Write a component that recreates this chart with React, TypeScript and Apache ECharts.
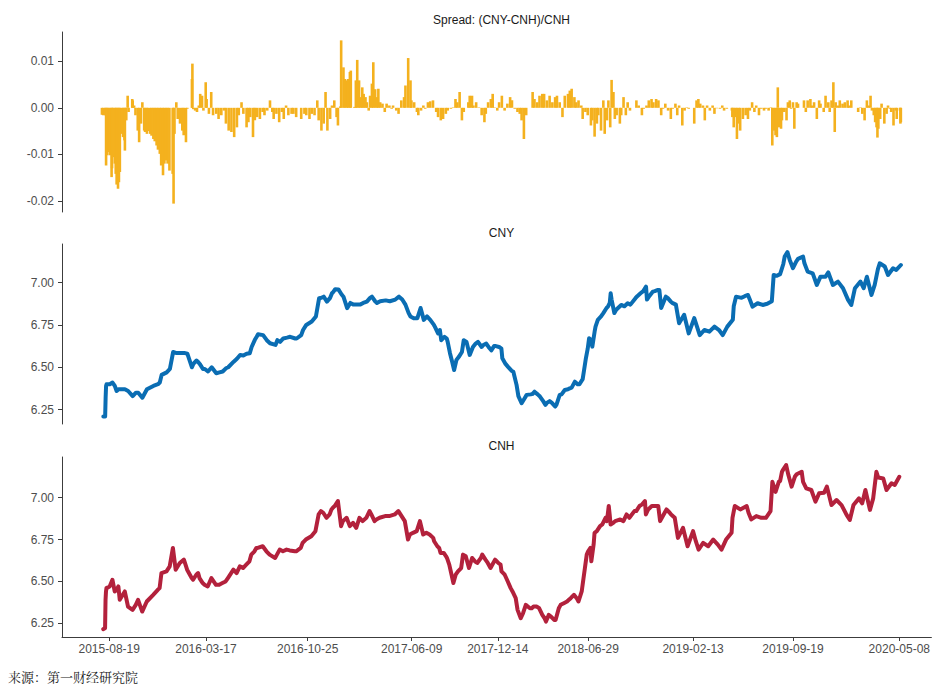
import React, { useEffect, useRef } from 'react';
import * as echarts from 'echarts';

// ---------- data ----------
const lineDates = [
  '2015-08-06','2015-08-10','2015-08-11','2015-08-12','2015-08-13','2015-08-20','2015-08-26','2015-08-31','2015-09-04','2015-09-08',
  '2015-09-11','2015-09-22','2015-09-29','2015-10-09','2015-10-16','2015-10-21','2015-10-30','2015-11-09','2015-11-23','2015-12-03',
  '2015-12-07','2015-12-11','2015-12-22','2015-12-29','2016-01-05','2016-01-11','2016-01-20','2016-01-29','2016-02-05','2016-02-15',
  '2016-02-18','2016-02-25','2016-02-29','2016-03-03','2016-03-10','2016-03-14','2016-03-21','2016-03-29','2016-04-08','2016-04-15',
  '2016-04-22','2016-04-29','2016-05-04','2016-05-16','2016-05-23','2016-05-30','2016-06-06','2016-06-13','2016-06-20','2016-06-24',
  '2016-07-01','2016-07-05','2016-07-08','2016-07-19','2016-07-27','2016-08-03','2016-08-15','2016-08-19','2016-08-25','2016-09-01',
  '2016-09-09','2016-09-16','2016-09-27','2016-09-30','2016-10-10','2016-10-14','2016-10-21','2016-11-02','2016-11-11','2016-11-18',
  '2016-11-23','2016-11-28','2016-12-05','2016-12-12','2016-12-16','2016-12-19','2016-12-23','2016-12-30','2017-01-06','2017-01-10',
  '2017-01-18','2017-01-25','2017-02-01','2017-02-08','2017-02-15','2017-02-22','2017-03-02','2017-03-09','2017-03-13','2017-03-20',
  '2017-03-24','2017-03-31','2017-04-12','2017-04-21','2017-05-03','2017-05-11','2017-05-18','2017-05-25','2017-06-01','2017-06-05',
  '2017-06-12','2017-06-20','2017-06-27','2017-07-04','2017-07-11','2017-07-18','2017-07-26','2017-07-28','2017-08-04','2017-08-08',
  '2017-08-11','2017-08-18','2017-08-23','2017-08-25','2017-08-30','2017-09-04','2017-09-08','2017-09-13','2017-09-18','2017-09-25',
  '2017-09-29','2017-10-05','2017-10-12','2017-10-19','2017-10-25','2017-10-30','2017-11-07','2017-11-10','2017-11-17','2017-11-22',
  '2017-11-28','2017-12-04','2017-12-08','2017-12-15','2017-12-20','2017-12-22','2017-12-29','2018-01-03','2018-01-11','2018-01-15',
  '2018-01-22','2018-01-26','2018-02-02','2018-02-07','2018-02-13','2018-02-22','2018-02-26','2018-03-02','2018-03-09','2018-03-14',
  '2018-03-21','2018-03-26','2018-03-29','2018-04-04','2018-04-09','2018-04-16','2018-04-19','2018-04-26','2018-04-30','2018-05-07',
  '2018-05-14','2018-05-18','2018-05-22','2018-05-29','2018-06-04','2018-06-08','2018-06-15','2018-06-19','2018-06-22','2018-06-26',
  '2018-06-29','2018-07-04','2018-07-06','2018-07-11','2018-07-13','2018-07-18','2018-07-25','2018-07-30','2018-08-06','2018-08-09',
  '2018-08-13','2018-08-15','2018-08-17','2018-08-23','2018-08-27','2018-09-07','2018-09-14','2018-09-21','2018-09-27','2018-10-08',
  '2018-10-12','2018-10-19','2018-10-25','2018-10-31','2018-11-02','2018-11-07','2018-11-15','2018-11-19','2018-11-26','2018-11-29',
  '2018-12-03','2018-12-13','2018-12-17','2018-12-24','2018-12-27','2019-01-04','2019-01-11','2019-01-22','2019-02-01','2019-02-13',
  '2019-02-19','2019-02-25','2019-03-07','2019-03-18','2019-03-29','2019-04-08','2019-04-16','2019-04-26','2019-05-08','2019-05-10',
  '2019-05-15','2019-05-27','2019-06-03','2019-06-10','2019-06-14','2019-06-20','2019-07-01','2019-07-12','2019-07-22','2019-08-01',
  '2019-08-05','2019-08-12','2019-08-19','2019-08-22','2019-08-26','2019-08-29','2019-09-04','2019-09-09','2019-09-16','2019-09-23',
  '2019-09-27','2019-10-08','2019-10-11','2019-10-18','2019-10-29','2019-11-07','2019-11-15','2019-11-26','2019-12-02','2019-12-12',
  '2019-12-23','2020-01-03','2020-01-14','2020-01-21','2020-01-29','2020-02-10','2020-02-17','2020-02-24','2020-03-05','2020-03-12',
  '2020-03-19','2020-03-23','2020-04-03','2020-04-10','2020-04-21','2020-04-28','2020-05-08',
];

const cnyValues = [
  6.210,6.210,6.320,6.390,6.400,6.400,6.410,6.390,6.360,6.370,
  6.370,6.370,6.360,6.330,6.350,6.350,6.320,6.370,6.390,6.400,
  6.410,6.455,6.470,6.490,6.590,6.585,6.585,6.585,6.580,6.500,
  6.520,6.540,6.530,6.520,6.490,6.490,6.475,6.500,6.465,6.470,
  6.475,6.494,6.500,6.533,6.550,6.573,6.570,6.580,6.583,6.620,
  6.662,6.680,6.695,6.690,6.660,6.642,6.632,6.660,6.650,6.670,
  6.675,6.680,6.670,6.670,6.690,6.720,6.750,6.770,6.800,6.908,
  6.910,6.917,6.888,6.910,6.937,6.945,6.961,6.960,6.930,6.917,
  6.849,6.880,6.870,6.870,6.870,6.880,6.888,6.910,6.917,6.890,
  6.880,6.890,6.895,6.890,6.900,6.917,6.900,6.870,6.820,6.800,
  6.790,6.790,6.850,6.780,6.800,6.780,6.750,6.740,6.700,6.720,
  6.660,6.680,6.670,6.650,6.583,6.530,6.484,6.543,6.560,6.590,
  6.660,6.650,6.573,6.620,6.640,6.650,6.620,6.630,6.640,6.620,
  6.600,6.625,6.625,6.620,6.610,6.553,6.520,6.504,6.480,6.474,
  6.396,6.330,6.288,6.310,6.337,6.340,6.343,6.356,6.340,6.327,
  6.300,6.278,6.290,6.300,6.290,6.268,6.280,6.337,6.340,6.366,
  6.370,6.376,6.380,6.415,6.400,6.400,6.430,6.500,6.553,6.610,
  6.672,6.660,6.622,6.710,6.740,6.780,6.800,6.820,6.850,6.858,
  6.880,6.937,6.900,6.820,6.840,6.868,6.860,6.878,6.870,6.908,
  6.920,6.937,6.950,6.976,6.900,6.920,6.947,6.950,6.957,6.957,
  6.850,6.917,6.910,6.888,6.880,6.870,6.760,6.810,6.700,6.790,
  6.740,6.690,6.720,6.710,6.740,6.720,6.690,6.740,6.780,6.860,
  6.917,6.910,6.920,6.927,6.900,6.858,6.878,6.868,6.875,6.890,
  7.045,7.040,7.050,7.075,7.110,7.154,7.180,7.134,7.085,7.124,
  7.140,7.154,7.114,7.065,7.055,6.986,7.035,7.035,7.060,6.986,
  7.006,6.967,6.898,6.868,6.967,7.006,6.967,7.035,6.927,6.986,
  7.080,7.114,7.095,7.045,7.085,7.075,7.104,
];

const cnhValues = [
  6.215,6.220,6.390,6.440,6.460,6.470,6.510,6.440,6.450,6.470,
  6.390,6.440,6.350,6.330,6.360,6.390,6.320,6.380,6.420,6.450,
  6.460,6.550,6.560,6.590,6.700,6.570,6.610,6.630,6.570,6.520,
  6.510,6.540,6.550,6.520,6.490,6.480,6.470,6.520,6.480,6.480,
  6.490,6.500,6.520,6.570,6.550,6.590,6.580,6.600,6.620,6.660,
  6.680,6.700,6.700,6.710,6.680,6.660,6.640,6.660,6.690,6.680,
  6.690,6.685,6.680,6.680,6.700,6.730,6.750,6.770,6.800,6.900,
  6.920,6.910,6.880,6.900,6.930,6.940,6.950,6.980,6.830,6.860,
  6.880,6.830,6.850,6.820,6.880,6.860,6.880,6.920,6.900,6.860,
  6.870,6.880,6.890,6.890,6.900,6.920,6.890,6.860,6.750,6.780,
  6.790,6.800,6.860,6.780,6.790,6.780,6.760,6.740,6.710,6.700,
  6.670,6.670,6.650,6.640,6.600,6.540,6.490,6.540,6.560,6.580,
  6.660,6.650,6.580,6.640,6.620,6.610,6.640,6.660,6.630,6.610,
  6.580,6.610,6.630,6.610,6.600,6.560,6.540,6.510,6.460,6.440,
  6.400,6.330,6.280,6.310,6.360,6.340,6.340,6.350,6.350,6.340,
  6.300,6.280,6.260,6.300,6.290,6.270,6.270,6.340,6.360,6.370,
  6.380,6.390,6.400,6.420,6.400,6.380,6.440,6.520,6.580,6.660,
  6.680,6.700,6.620,6.720,6.790,6.800,6.830,6.840,6.880,6.860,
  6.950,6.900,6.840,6.850,6.860,6.870,6.860,6.900,6.880,6.920,
  6.920,6.950,6.960,6.980,6.900,6.930,6.950,6.950,6.950,6.950,
  6.860,6.910,6.930,6.910,6.900,6.880,6.760,6.820,6.710,6.800,
  6.740,6.690,6.730,6.710,6.750,6.720,6.690,6.750,6.790,6.880,
  6.950,6.930,6.940,6.950,6.910,6.870,6.890,6.880,6.880,6.920,
  7.095,7.035,7.095,7.100,7.155,7.170,7.195,7.135,7.066,7.125,
  7.140,7.155,7.095,7.056,7.046,6.976,7.026,7.030,7.066,6.956,
  6.986,6.956,6.897,6.867,6.956,6.996,6.966,7.046,6.927,6.996,
  7.155,7.120,7.115,7.046,7.086,7.076,7.125,
];

const spreadDates = [
  '2015-08-03','2015-08-06','2015-08-10','2015-08-12','2015-08-14','2015-08-17','2015-08-20','2015-08-24','2015-08-25','2015-08-27',
  '2015-08-31','2015-09-02','2015-09-04','2015-09-07','2015-09-09','2015-09-11','2015-09-15','2015-09-18','2015-09-21','2015-09-22',
  '2015-09-25','2015-09-28','2015-09-30','2015-10-08','2015-10-09','2015-10-12','2015-10-15','2015-10-20','2015-10-23','2015-10-27',
  '2015-10-30','2015-11-03','2015-11-05','2015-11-09','2015-11-11','2015-11-16','2015-11-19','2015-11-23','2015-11-26','2015-11-30',
  '2015-12-03','2015-12-07','2015-12-10','2015-12-14','2015-12-17','2015-12-21','2015-12-24','2015-12-28','2016-01-04','2016-01-06',
  '2016-01-08','2016-01-12','2016-01-15','2016-01-20','2016-01-25','2016-01-28','2016-02-02','2016-02-05','2016-02-15','2016-02-16',
  '2016-02-18','2016-02-22','2016-02-26','2016-03-01','2016-03-04','2016-03-08','2016-03-11','2016-03-16','2016-03-18','2016-03-23',
  '2016-03-28','2016-04-01','2016-04-08','2016-04-13','2016-04-19','2016-04-25','2016-04-29','2016-05-05','2016-05-11','2016-05-17',
  '2016-05-23','2016-05-27','2016-06-02','2016-06-06','2016-06-13','2016-06-17','2016-06-21','2016-06-27','2016-07-01','2016-07-06',
  '2016-07-12','2016-07-18','2016-07-22','2016-07-28','2016-08-03','2016-08-08','2016-08-11','2016-08-17','2016-08-23','2016-08-29',
  '2016-09-02','2016-09-07','2016-09-12','2016-09-19','2016-09-23','2016-09-29','2016-10-10','2016-10-17','2016-10-21','2016-10-28',
  '2016-11-02','2016-11-08','2016-11-14','2016-11-17','2016-11-23','2016-11-28','2016-12-02','2016-12-06','2016-12-12','2016-12-16',
  '2016-12-21','2016-12-26','2016-12-29','2017-01-03','2017-01-05','2017-01-10','2017-01-13','2017-01-17','2017-01-20','2017-01-24',
  '2017-01-26','2017-02-03','2017-02-06','2017-02-09','2017-02-13','2017-02-16','2017-02-20','2017-02-23','2017-02-27','2017-03-02',
  '2017-03-06','2017-03-09','2017-03-13','2017-03-16','2017-03-20','2017-03-24','2017-03-27','2017-03-31','2017-04-05','2017-04-10',
  '2017-04-14','2017-04-20','2017-04-25','2017-04-28','2017-05-05','2017-05-10','2017-05-16','2017-05-22','2017-05-25','2017-05-31',
  '2017-06-05','2017-06-07','2017-06-13','2017-06-19','2017-06-22','2017-06-28','2017-07-03','2017-07-07','2017-07-13','2017-07-18',
  '2017-07-24','2017-07-31','2017-08-04','2017-08-10','2017-08-15','2017-08-21','2017-08-25','2017-09-01','2017-09-06','2017-09-11',
  '2017-09-15','2017-09-20','2017-09-25','2017-09-29','2017-10-09','2017-10-12','2017-10-17','2017-10-20','2017-10-26','2017-11-01',
  '2017-11-07','2017-11-13','2017-11-16','2017-11-21','2017-11-27','2017-12-01','2017-12-05','2017-12-11','2017-12-15','2017-12-21',
  '2017-12-27','2018-01-02','2018-01-08','2018-01-12','2018-01-18','2018-01-24','2018-01-29','2018-02-02','2018-02-07','2018-02-12',
  '2018-02-26','2018-03-02','2018-03-08','2018-03-13','2018-03-19','2018-03-23','2018-03-29','2018-04-04','2018-04-10','2018-04-16',
  '2018-04-20','2018-04-26','2018-05-02','2018-05-07','2018-05-14','2018-05-18','2018-05-22','2018-05-28','2018-06-01','2018-06-06',
  '2018-06-12','2018-06-15','2018-06-21','2018-06-26','2018-07-03','2018-07-06','2018-07-11','2018-07-16','2018-07-19','2018-07-25',
  '2018-07-30','2018-08-02','2018-08-07','2018-08-10','2018-08-14','2018-08-17','2018-08-21','2018-08-24','2018-08-28','2018-09-04',
  '2018-09-07','2018-09-12','2018-09-17','2018-09-21','2018-09-26','2018-10-10','2018-10-15','2018-10-22','2018-10-26','2018-11-01',
  '2018-11-06','2018-11-12','2018-11-16','2018-11-22','2018-11-27','2018-12-03','2018-12-07','2018-12-12','2018-12-18','2018-12-24',
  '2018-12-28','2019-01-03','2019-01-07','2019-01-11','2019-01-18','2019-01-23','2019-01-28','2019-02-01','2019-02-13','2019-02-18',
  '2019-02-22','2019-02-26','2019-03-04','2019-03-08','2019-03-13','2019-03-19','2019-03-25','2019-03-29','2019-04-03','2019-04-10',
  '2019-04-15','2019-04-19','2019-04-25','2019-05-06','2019-05-07','2019-05-10','2019-05-14','2019-05-17','2019-05-21','2019-05-24',
  '2019-05-30','2019-06-05','2019-06-10','2019-06-14','2019-06-19','2019-06-24','2019-06-28','2019-07-04','2019-07-09','2019-07-15',
  '2019-07-19','2019-07-25','2019-07-30','2019-08-02','2019-08-05','2019-08-09','2019-08-12','2019-08-14','2019-08-16','2019-08-21',
  '2019-08-23','2019-08-28','2019-09-02','2019-09-05','2019-09-09','2019-09-12','2019-09-16','2019-09-19','2019-09-24','2019-09-27',
  '2019-10-10','2019-10-14','2019-10-18','2019-10-24','2019-10-28','2019-11-01','2019-11-07','2019-11-12','2019-11-15','2019-11-22',
  '2019-11-26','2019-12-02','2019-12-05','2019-12-09','2019-12-13','2019-12-16','2019-12-18','2019-12-23','2019-12-27','2020-01-02',
  '2020-01-07','2020-01-13','2020-01-16','2020-01-21','2020-02-05','2020-02-10','2020-02-14','2020-02-19','2020-02-24','2020-02-28',
  '2020-03-03','2020-03-06','2020-03-10','2020-03-13','2020-03-16','2020-03-18','2020-03-20','2020-03-24','2020-03-27','2020-04-02',
  '2020-04-07','2020-04-10','2020-04-14','2020-04-17','2020-04-22','2020-04-27','2020-04-29','2020-05-06','2020-05-07','2020-05-08',
];

const spreadValues = [
  -0.0015,-0.0016,-0.0016,-0.0124,-0.0102,-0.0095,-0.0102,-0.0149,-0.0130,-0.0106,
  -0.0120,-0.0142,-0.0165,-0.0174,-0.0160,-0.0138,-0.0056,-0.0063,-0.0070,-0.0092,
  -0.0027,0.0026,-0.0009,0.0019,0.0016,0.0005,-0.0016,-0.0049,-0.0074,-0.0034,
  0.0012,-0.0049,-0.0052,-0.0056,-0.0050,-0.0056,-0.0060,-0.0067,-0.0072,-0.0081,
  -0.0090,-0.0099,-0.0124,-0.0145,-0.0120,-0.0113,-0.0120,-0.0135,-0.0142,-0.0206,
  -0.0056,0.0012,-0.0024,-0.0034,-0.0049,-0.0059,-0.0074,-0.0002,0.0062,0.0095,
  -0.0003,-0.0006,-0.0009,0.0005,0.0030,0.0026,-0.0006,0.0055,0.0019,-0.0013,
  0.0034,-0.0016,-0.0013,-0.0024,-0.0016,-0.0006,-0.0034,-0.0049,-0.0052,-0.0063,
  -0.0042,-0.0016,0.0012,-0.0013,-0.0042,-0.0031,-0.0020,-0.0063,-0.0027,-0.0020,
  -0.0024,-0.0009,-0.0016,-0.0006,0.0016,-0.0009,-0.0024,-0.0013,-0.0031,-0.0009,
  -0.0024,0.0005,-0.0016,-0.0013,-0.0013,-0.0020,-0.0024,-0.0013,-0.0016,-0.0024,
  -0.0013,-0.0016,0.0016,-0.0027,-0.0049,-0.0034,0.0034,-0.0049,-0.0024,0.0005,
  0.0016,-0.0020,-0.0038,0.0003,0.0145,0.0087,0.0062,0.0059,0.0062,0.0077,
  0.0080,0.0002,0.0059,0.0103,0.0059,0.0023,0.0044,0.0030,0.0023,0.0012,
  -0.0006,0.0026,0.0052,0.0098,0.0040,0.0023,0.0041,0.0012,0.0009,-0.0009,
  0.0009,0.0005,-0.0002,0.0005,-0.0006,-0.0013,0.0016,0.0023,0.0048,0.0107,
  0.0059,0.0016,0.0012,-0.0009,-0.0016,-0.0006,0.0005,-0.0002,0.0012,0.0014,
  0.0016,-0.0009,-0.0020,-0.0027,-0.0024,-0.0013,-0.0006,-0.0002,0.0001,0.0019,
  0.0012,0.0034,-0.0027,-0.0009,0.0012,0.0026,0.0026,0.0005,0.0012,0.0001,
  -0.0016,-0.0031,-0.0013,0.0012,0.0019,0.0030,0.0001,-0.0006,0.0012,0.0026,
  -0.0006,0.0009,0.0023,0.0016,-0.0002,-0.0009,-0.0013,-0.0027,-0.0067,-0.0016,
  0.0034,0.0019,0.0012,0.0026,0.0030,0.0030,0.0016,0.0026,0.0012,0.0023,
  0.0026,0.0012,-0.0020,0.0026,0.0030,0.0037,0.0041,0.0023,0.0012,0.0016,
  0.0005,-0.0024,-0.0009,-0.0016,-0.0038,-0.0027,-0.0062,-0.0034,-0.0016,-0.0049,
  0.0016,-0.0056,-0.0027,0.0016,-0.0042,0.0060,0.0034,-0.0024,-0.0016,-0.0034,
  -0.0016,0.0023,-0.0016,0.0012,-0.0006,0.0016,0.0005,-0.0016,-0.0002,0.0005,
  0.0016,0.0019,0.0012,0.0019,0.0016,-0.0016,-0.0002,0.0009,-0.0006,-0.0024,
  -0.0002,0.0009,-0.0016,0.0005,-0.0038,-0.0006,0.0001,-0.0002,-0.0034,0.0016,
  0.0019,0.0009,0.0005,-0.0027,0.0005,-0.0006,0.0005,-0.0013,-0.0001,-0.0002,
  0.0005,-0.0006,-0.0002,-0.0006,-0.0020,-0.0042,-0.0020,-0.0067,-0.0034,-0.0049,
  -0.0024,-0.0016,-0.0024,-0.0006,0.0012,-0.0009,0.0005,-0.0016,-0.0002,-0.0006,
  -0.0002,-0.0006,0.0001,-0.0081,-0.0049,-0.0059,-0.0063,0.0044,-0.0042,-0.0045,
  -0.0027,-0.0009,-0.0027,0.0012,0.0016,-0.0002,0.0012,-0.0045,0.0012,0.0009,
  0.0016,-0.0009,0.0016,0.0019,0.0005,0.0012,-0.0024,0.0016,0.0009,-0.0009,
  0.0026,0.0012,-0.0009,0.0016,0.0055,-0.0052,0.0012,0.0005,0.0016,0.0009,
  0.0012,0.0016,0.0005,0.0016,-0.0009,0.0001,-0.0013,-0.0027,0.0016,0.0005,
  0.0026,-0.0006,-0.0016,-0.0031,-0.0042,-0.0064,-0.0045,-0.0024,0.0009,-0.0034,
  -0.0013,0.0005,-0.0002,-0.0009,-0.0038,-0.0006,-0.0024,-0.0006,-0.0034,-0.0031,
];

const xTickDates = ['2015-08-19','2016-03-17','2016-10-25','2017-06-09','2017-12-14','2018-06-29','2019-02-13','2019-09-19','2020-05-08'];
const spreadTicks = [-0.02, -0.01, 0, 0.01];
const rateTicks = [6.25, 6.5, 6.75, 7.0];
const panelTitles = ['Spread: (CNY-CNH)/CNH', 'CNY', 'CNH'];
const sourceText = '来源：第一财经研究院';

// ---------- helpers ----------
const ts = (s: string) => {
  const [y, m, d] = s.split('-').map(Number);
  return Date.UTC(y, m - 1, d);
};
const pad = (n: number) => (n < 10 ? '0' + n : '' + n);
const fmtDate = (v: number) => {
  const d = new Date(v);
  return `${d.getUTCFullYear()}-${pad(d.getUTCMonth() + 1)}-${pad(d.getUTCDate())}`;
};

export default function App() {
  const ref = useRef<HTMLDivElement>(null);

  useEffect(() => {
    if (!ref.current) return;
    const chart = echarts.init(ref.current, null, { renderer: 'svg' });
    const font = "'Liberation Sans', Arial, sans-serif";
    const axisColor = '#3c3c3c';
    const labelStyle = { color: '#4d4d4d', fontSize: 12, fontFamily: font };
    const xMin = ts('2015-05-08');
    const xMax = ts('2020-07-17');
    const xTicks = xTickDates.map(ts);

    const grids = [
      { left: 62, right: 0, top: 32, height: 180 },
      { left: 62, right: 0, top: 244, height: 180 },
      { left: 62, right: 0, top: 457, height: 180 },
    ];

    const xAxes = grids.map((_, i) => ({
      type: 'value',
      gridIndex: i,
      min: xMin,
      max: xMax,
      show: i === 2,
      axisLine: { show: true, onZero: false, lineStyle: { color: axisColor, width: 1 } },
      axisTick: { show: true, length: 4, lineStyle: { color: axisColor }, customValues: xTicks },
      axisLabel: { ...labelStyle, margin: 6, customValues: xTicks, formatter: (v: number) => fmtDate(v), hideOverlap: false, showMinLabel: true, showMaxLabel: true },
      splitLine: { show: false },
    }));

    const yAxis = (i: number, min: number, max: number, ticks: number[]) => ({
      type: 'value',
      gridIndex: i,
      min,
      max,
      axisLine: { show: true, onZero: false, lineStyle: { color: axisColor, width: 1 } },
      axisTick: { show: true, length: 4, lineStyle: { color: axisColor }, customValues: ticks },
      axisLabel: { ...labelStyle, margin: 8, customValues: ticks, formatter: (v: number) => v.toFixed(2) },
      splitLine: { show: false },
    });

    const titleY = [19.5, 232.5, 446];

    chart.setOption({
      animation: false,
      backgroundColor: '#ffffff',
      grid: grids,
      xAxis: xAxes,
      yAxis: [
        yAxis(0, -0.0224, 0.0163, spreadTicks),
        yAxis(1, 6.165, 7.228, rateTicks),
        yAxis(2, 6.168, 7.243, rateTicks),
      ],
      series: [
        {
          type: 'bar',
          name: 'Spread',
          xAxisIndex: 0,
          yAxisIndex: 0,
          barWidth: 2.6,
          itemStyle: { color: '#F4B11E' },
          data: spreadDates.map((d, i) => [ts(d), spreadValues[i]]),
        },
        {
          type: 'line',
          name: 'CNY',
          xAxisIndex: 1,
          yAxisIndex: 1,
          showSymbol: false,
          lineStyle: { width: 4, color: '#0A6DB3', join: 'round', cap: 'round' },
          itemStyle: { color: '#0A6DB3' },
          data: lineDates.map((d, i) => [ts(d), cnyValues[i]]),
        },
        {
          type: 'line',
          name: 'CNH',
          xAxisIndex: 2,
          yAxisIndex: 2,
          showSymbol: false,
          lineStyle: { width: 4, color: '#B3213C', join: 'round', cap: 'round' },
          itemStyle: { color: '#B3213C' },
          data: lineDates.map((d, i) => [ts(d), cnhValues[i]]),
        },
      ],
      graphic: [
        ...panelTitles.map((t, i) => ({
          type: 'text',
          x: 501.5,
          y: titleY[i],
          style: {
            text: t,
            fill: '#1a1a1a',
            font: `12px ${font}`,
            textAlign: 'center',
            textVerticalAlign: 'middle',
          },
        })),
        {
          type: 'text',
          x: 8,
          y: 676,
          style: {
            text: sourceText,
            fill: '#222222',
            font: "13px 'Noto Serif CJK SC', 'Noto Sans CJK SC', serif",
            textAlign: 'left',
            textVerticalAlign: 'middle',
          },
        },
      ],
    });

    return () => chart.dispose();
  }, []);

  return (
    <div
      ref={ref}
      style={{ position: 'absolute', left: 0, top: 0, width: 933, height: 686, background: '#fff' }}
    />
  );
}
